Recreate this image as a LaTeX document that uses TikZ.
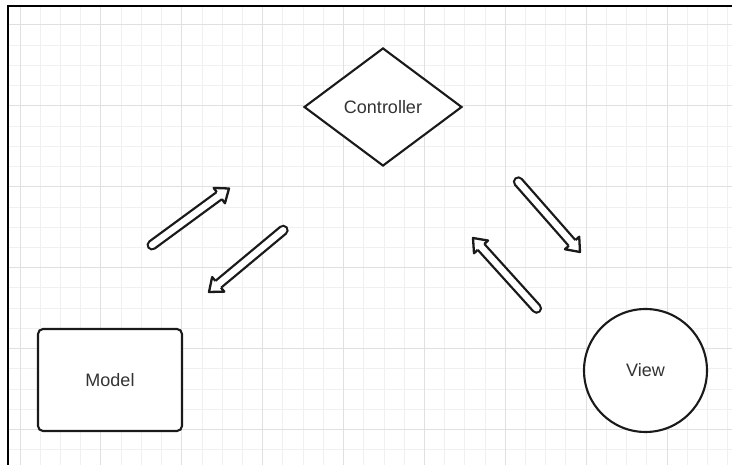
\documentclass[tikz,border=0pt]{standalone}
\usepackage{fontspec}
\setmainfont{Liberation Sans}
\usetikzlibrary{calc,shapes.geometric}
\definecolor{lc}{HTML}{1A1A1A}
\definecolor{tc}{HTML}{333333}
\definecolor{gminor}{HTML}{F0F0F0}
\definecolor{gmajor}{HTML}{E0E0E0}
\tikzset{
  shapeline/.style={draw=lc, line width=2.1pt, fill=white, text=tc, font=\fontsize{18}{21}\selectfont, inner sep=0pt},
  diamondbox/.style={shapeline, diamond, shape aspect=1.34, minimum width=158pt, minimum height=118pt},
  modelbox/.style={shapeline, rectangle, rounded corners=5pt, minimum width=144pt, minimum height=102pt},
  viewcircle/.style={shapeline, circle, minimum size=123pt},
}
\newcommand\hollowarrow[2]{%
  \coordinate (nk) at ($(#2)!12pt!(#1)$);
  \draw[lc, line width=11pt, line cap=round] (#1) -- (nk);
  \draw[white, line width=6.4pt, line cap=round] (#1) -- (nk);
  \fill[white] ($(nk)!4.4pt!90:(#2)$) -- ($(nk)!9.5pt!90:(#2)$) -- (#2) -- ($(nk)!9.5pt!-90:(#2)$) -- ($(nk)!4.4pt!-90:(#2)$) -- cycle;
  \draw[lc, line width=2.3pt, line join=round] ($(nk)!4.4pt!90:(#2)$) -- ($(nk)!9.5pt!90:(#2)$) -- (#2) -- ($(nk)!9.5pt!-90:(#2)$) -- ($(nk)!4.4pt!-90:(#2)$);
}
\begin{document}
\begin{tikzpicture}[x=1pt,y=-1pt]
\useasboundingbox (0,0) rectangle (732,465);
\fill[white] (0,0) rectangle (732,465);
% grid
\begin{scope}
\clip (8,6) rectangle (732,465);
\foreach \i in {0,...,35}{
  \pgfmathsetmacro\xx{20+20.22*\i}
  \pgfmathtruncatemacro\m{mod(\i,4)}
  \ifnum\m=0\relax\else\draw[gminor, line width=0.9pt] (\xx,0) -- (\xx,465);\fi
}
\foreach \i in {0,...,22}{
  \pgfmathsetmacro\yy{25+20.22*\i}
  \pgfmathtruncatemacro\m{mod(\i,4)}
  \ifnum\m=0\relax\else\draw[gminor, line width=0.9pt] (0,\yy) -- (732,\yy);\fi
}
\foreach \i in {0,4,...,35}{
  \pgfmathsetmacro\xx{20+20.22*\i}
  \draw[gmajor, line width=1pt] (\xx,0) -- (\xx,465);
}
\foreach \i in {0,4,...,22}{
  \pgfmathsetmacro\yy{25+20.22*\i}
  \draw[gmajor, line width=1pt] (0,\yy) -- (732,\yy);
}
\end{scope}
% frame
\draw[black, line width=2pt] (8,470) -- (8,6) -- (740,6);
% nodes
\node[diamondbox] (ctrl) at (383,107) {Controller};
\node[modelbox] (model) at (110,380) {Model};
\node[viewcircle] (view) at (645.5,370.5) {View};
% arrows
\coordinate (a1t) at (152,245);
\coordinate (a1h) at (229,188.5);
\coordinate (a2t) at (283.2,230.2);
\coordinate (a2h) at (209,292);
\coordinate (a3t) at (518.3,181.8);
\coordinate (a3h) at (580,252);
\coordinate (a4t) at (536.6,308.3);
\coordinate (a4h) at (473,238);
\hollowarrow{a1t}{a1h}
\hollowarrow{a2t}{a2h}
\hollowarrow{a3t}{a3h}
\hollowarrow{a4t}{a4h}
\end{tikzpicture}
\end{document}
